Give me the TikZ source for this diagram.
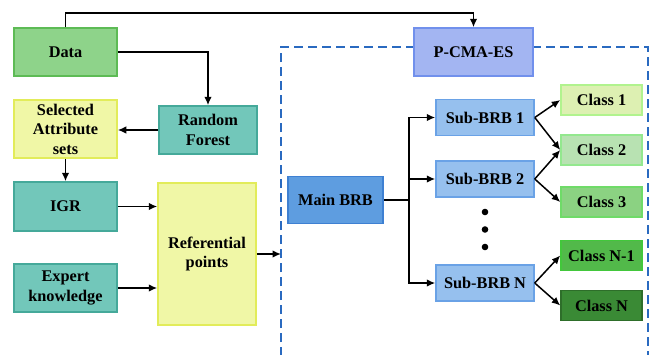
\documentclass[tikz,border=0pt]{standalone}
\usepackage{fontspec}
\setmainfont{Liberation Serif}
\usetikzlibrary{arrows.meta,positioning,calc}
\definecolor{datafill}{HTML}{8ED38A}
\definecolor{dataline}{HTML}{5DBB55}
\definecolor{yelfill}{HTML}{F0F7A6}
\definecolor{yelline}{HTML}{E2EC5A}
\definecolor{tealfill}{HTML}{72C7BA}
\definecolor{tealline}{HTML}{45A99A}
\definecolor{pcmafill}{HTML}{A3B5F2}
\definecolor{pcmaline}{HTML}{7190EC}
\definecolor{mainfill}{HTML}{5E9DE0}
\definecolor{mainline}{HTML}{3E80D2}
\definecolor{subfill}{HTML}{96C0EE}
\definecolor{subline}{HTML}{6AA2E6}
\definecolor{frameblue}{HTML}{2A6AC0}
\definecolor{cla}{HTML}{DDF0B2}
\definecolor{clb}{HTML}{B8E2B2}
\definecolor{clc}{HTML}{8BD282}
\definecolor{cld}{HTML}{52B94A}
\definecolor{cle}{HTML}{3A8A35}
\tikzset{
    block/.style={draw,line width=1.5pt,inner sep=0pt,align=center,font=\fontsize{16.3}{19.5}\selectfont\bfseries},
    bigbox/.style={block,minimum width=103pt,minimum height=48pt},
    subbox/.style={block,fill=subfill,draw=subline,minimum width=98pt,minimum height=36pt},
    classbox/.style={block,minimum width=81pt,minimum height=30pt},
    arrow/.style={-{Latex[length=8.5pt,width=7.5pt]},line width=1.5pt}
}
\begin{document}
\begin{tikzpicture}[x=1pt,y=-1pt]
    \useasboundingbox (0,0) rectangle (656,354);
    % dashed frame
    \coordinate (fl) at (281,47);
    \coordinate (fr) at (648,47);
    \draw[frameblue,line width=2pt,dash pattern=on 9pt off 5pt] (281,356) -- (fl) -- (fr) -- (648,356);

    \node[bigbox,fill=datafill,draw=dataline] (data) at (65.5,52) {Data};
    \node[bigbox,fill=yelfill,draw=yelline,minimum height=58pt] (sel) at (65.5,129) {Selected\\Attribute\\sets};
    \node[bigbox,fill=tealfill,draw=tealline,minimum width=98pt] (rf) at (208,130) {Random\\Forest};
    \node[bigbox,fill=tealfill,draw=tealline,minimum height=49pt] (igr) at (65.5,206.5) {IGR};
    \node[bigbox,fill=tealfill,draw=tealline] (exp) at (65.5,288) {Expert\\knowledge};
    \node[bigbox,fill=yelfill,draw=yelline,minimum width=98pt,minimum height=142pt] (ref) at (207,254) {Referential\\points};

    \node[bigbox,fill=pcmafill,draw=pcmaline,minimum width=119pt] (pcma) at (473.5,52) {P-CMA-ES};
    \node[bigbox,fill=mainfill,draw=mainline,minimum width=95pt,minimum height=47pt] (main) at (335.5,200) {Main BRB};

    \node[subbox] (sub1) at (485,117.5) {Sub-BRB 1};
    \node[subbox] (sub2) at (485,179) {Sub-BRB 2};
    \node[subbox] (subN) at (485,283) {Sub-BRB N};
    \foreach \y in {212,229.5,247} {\fill (485,\y) circle (3.3pt);}

    \node[classbox,fill=cla,draw=cla!80!green] (c1) at (601.5,100) {Class 1};
    \node[classbox,fill=clb,draw=clb!80!green] (c2) at (601.5,150) {Class 2};
    \node[classbox,fill=clc,draw=clc!80!green] (c3) at (601.5,202) {Class 3};
    \node[classbox,fill=cld,draw=cld!80!green] (cn1) at (601.5,255.5) {Class N-1};
    \node[classbox,fill=cle,draw=cle!80!black] (cn) at (601.5,305.5) {Class N};

    \draw[arrow] (data.north) -- ++(0,-14.5) -| (pcma.north);
    \draw[arrow] (data.east) -| (rf.north);
    \draw[arrow] (rf.west) -- (sel.east |- rf.west);
    \draw[arrow] (sel.south) -- (igr.north);
    \draw[arrow] (igr.east) -- (ref.west |- igr.east);
    \draw[arrow] (exp.east) -- (ref.west |- exp.east);
    \draw[arrow] (ref.east) -- (ref.east -| fl);

    \coordinate (bus) at (409,200);
    \draw[line width=1.5pt] (main.east) -- (bus);
    \foreach \s in {sub1,sub2,subN} {\draw[arrow] (bus) |- (\s.west);}
    \foreach \a/\b in {sub1/c1,sub1/c2,sub2/c2,sub2/c3,subN/cn1,subN/cn} {\draw[arrow] (\a.east) -- (\b.west);}
\end{tikzpicture}
\end{document}
